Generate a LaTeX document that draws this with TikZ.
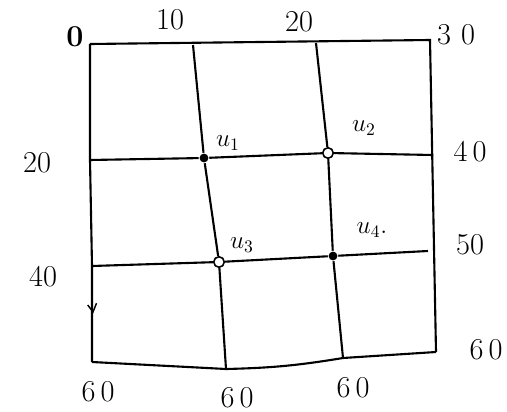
\documentclass[tikz,border=0pt]{standalone}
\usetikzlibrary{positioning,arrows.meta}

\begin{document}
\begin{tikzpicture}[x=0.02cm, y=-0.02cm, line width=1pt,
      gridline/.style={draw=black, line width=1.2pt},
      lbl/.style={font=\LARGE, inner sep=1pt},
      ulbl/.style={font=\Large, inner sep=1pt},
      fulldot/.style={circle, fill=black, inner sep=0pt, minimum size=5pt},
      opendot/.style={circle, draw=black, fill=white, line width=0.9pt, inner sep=0pt, minimum size=6pt}]
      \useasboundingbox (0,0) rectangle (507,412);
      % grid corners and crossings
      \coordinate (c00) at (90,44);  \coordinate (c10) at (193,45);
      \coordinate (c20) at (316,43); \coordinate (c30) at (430,40);
      \coordinate (c01) at (90,160); \coordinate (c31) at (433,155);
      \coordinate (c02) at (92,266); \coordinate (c32) at (428,251);
      \coordinate (c03) at (92,362); \coordinate (c13) at (226,369);
      \coordinate (c23) at (343,358); \coordinate (c33) at (436,352);
      \coordinate (tick) at (93,312);
      % border
      \draw[gridline] (c00) -- (c30) -- (c33);
      \draw[gridline] (c00) -- (c01) -- (c02) -- (c03);
      \draw[gridline] (c03) -- (c13) to[bend right=4] (c23) -- (c33);
      % interior lines
      \node[fulldot] (u1) at (204,158) {};
      \node[opendot] (u2) at (328,153) {};
      \node[opendot] (u3) at (219,262) {};
      \node[fulldot] (u4) at (333,256) {};
      \draw[gridline] (c10) -- (u1) -- (u3) -- (c13);
      \draw[gridline] (c20) -- (u2) -- (u4) -- (c23);
      \draw[gridline] (c01) -- (u1) -- (u2) -- (c31);
      \draw[gridline] (c02) -- (u3) -- (u4) -- (c32);
      \draw[line width=0.8pt] ([xshift=-3pt, yshift=4pt]tick) -- (tick) -- ([xshift=2pt, yshift=5pt]tick);
      % boundary values
      \node[lbl] (t0) at (75,37) {\textbf{0}};
      \node[lbl] (t10) at (170,20) {10};
      \node[lbl] (t20) at (299,22) {20};
      \node[lbl] (t30) at (456,35) {3\,\,0};
      \node[lbl] (l20) at (37,163) {20};
      \node[lbl] (l40) at (43,277) {40};
      \node[lbl] (r40) at (470,152) {4\,0};
      \node[lbl] (r50) at (470,245) {50};
      \node[lbl] (r60) at (486,350) {6\,0};
      \node[lbl] (b60a) at (98,392) {6\,0};
      \node[lbl] (b60b) at (237,398) {6\,0};
      \node[lbl] (b60c) at (353,388) {6\,0};
      % unknowns
      \node[ulbl] (n1) at (228,143) {$u_1$};
      \node[ulbl] (n2) at (364,128) {$u_2$};
      \node[ulbl] (n3) at (242,245) {$u_3$};
      \node[ulbl] (n4) at (372,230) {$u_4.$};
    \end{tikzpicture}
\end{document}
